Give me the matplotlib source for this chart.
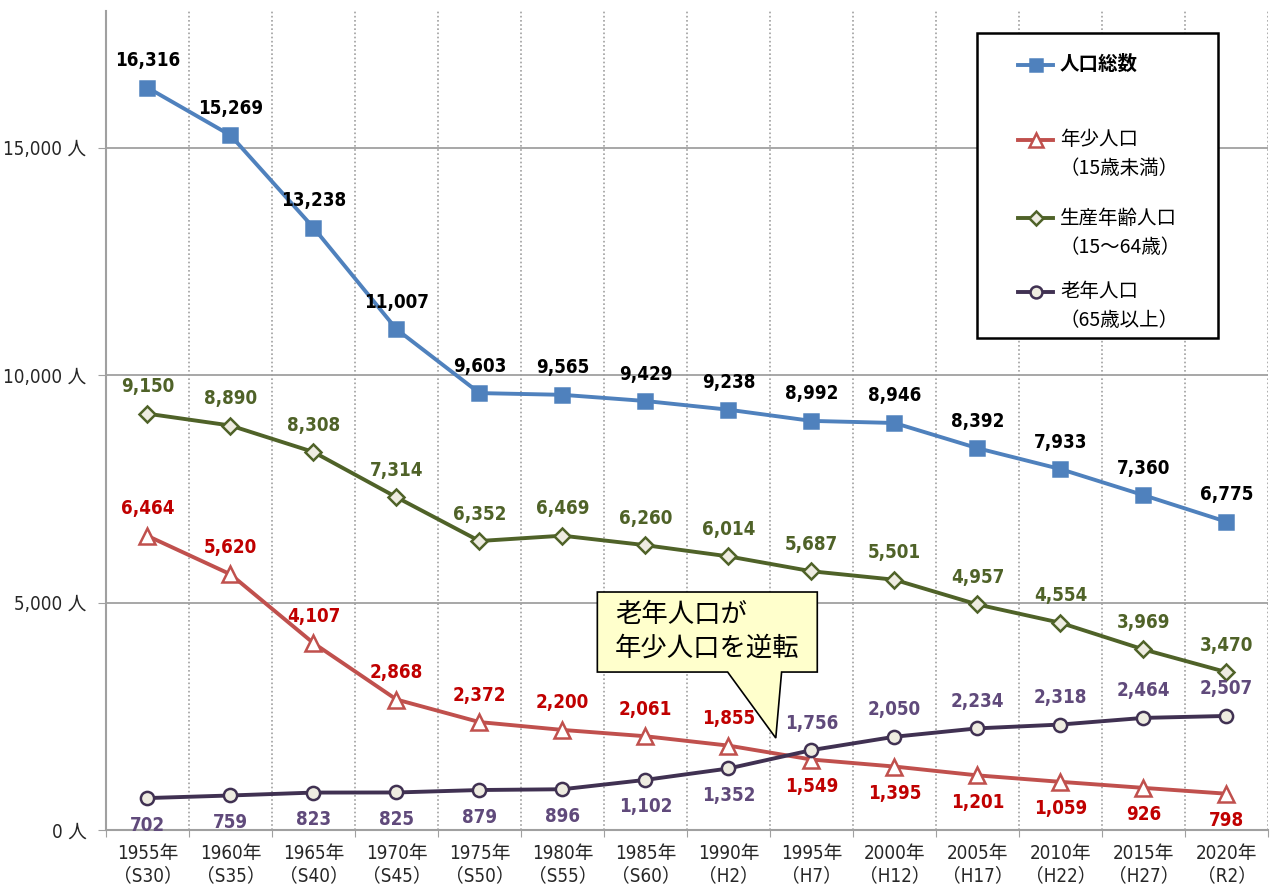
import matplotlib
matplotlib.use('Agg')
import matplotlib.pyplot as plt
from matplotlib.patches import Rectangle, Polygon
from matplotlib.lines import Line2D

plt.rcParams['font.family'] = ['DejaVu Sans', 'Noto Sans CJK JP']
plt.rcParams['font.stretch'] = 'condensed'

# data
years = ['1955年', '1960年', '1965年', '1970年', '1975年', '1980年', '1985年',
         '1990年', '1995年', '2000年', '2005年', '2010年', '2015年', '2020年']
eras = ['S30', 'S35', 'S40', 'S45', 'S50', 'S55', 'S60',
        'H2', 'H7', 'H12', 'H17', 'H22', 'H27', 'R2']
total = [16316, 15269, 13238, 11007, 9603, 9565, 9429, 9238, 8992, 8946, 8392, 7933, 7360, 6775]
youth = [6464, 5620, 4107, 2868, 2372, 2200, 2061, 1855, 1549, 1395, 1201, 1059, 926, 798]
working = [9150, 8890, 8308, 7314, 6352, 6469, 6260, 6014, 5687, 5501, 4957, 4554, 3969, 3470]
elderly = [702, 759, 823, 825, 879, 896, 1102, 1352, 1756, 2050, 2234, 2318, 2464, 2507]

x = list(range(len(years)))

fig = plt.figure(figsize=(12.71, 8.90), dpi=100)
ax = fig.add_axes([0.0834, 0.0674, 0.9142, 0.9202])

# series: (values, line colour, label colour, marker, face, label side per point)
series = [
  (total, '#4F81BD', '#000000', 's', '#4F81BD', [1] * 14),
  (youth, '#C0504D', '#C00000', '^', 'white', [1] * 8 + [-1] * 6),
  (working, '#4F6228', '#4F6228', 'D', '#EEECE1', [1] * 14),
  (elderly, '#403152', '#604A7B', 'o', '#EEECE1', [-1] * 8 + [1] * 6),
]
msizes = {'s': 10, '^': 11, 'D': 8, 'o': 9.5}

for vals, col, lcol, mk, face, side in series:
  ax.plot(x, vals, color=col, lw=2.8, marker=mk, ms=msizes[mk],
          mfc=face, mec=col, mew=1.8, zorder=4, clip_on=False)
  for xi, v, s in zip(x, vals, side):
    ax.annotate(f'{v:,}', (xi, v), xytext=(0, 27 * s), textcoords='offset pixels',
                ha='center', va='center', fontsize=13.5, fontweight='bold',
                fontstretch='condensed', color=lcol, zorder=5)

# axes
ax.set_xlim(-0.5, 13.5)
ax.set_ylim(0, 18000)
ax.set_yticks([0, 5000, 10000, 15000])
ax.set_yticklabels([f'{v:,} 人' for v in [0, 5000, 10000, 15000]], fontsize=13.5, color='#262626')
ax.set_xticks([i + 0.5 for i in range(-1, 14)])
ax.set_xticklabels([])
ax.set_xticks(x, minor=True)
ax.set_xticklabels([f'{y}\n（{e}）' for y, e in zip(years, eras)], minor=True,
                   fontsize=13.5, color='#262626', linespacing=1.2)
ax.tick_params(axis='x', which='minor', length=0, pad=10)
ax.tick_params(axis='x', which='major', length=5, color='#A0A0A0', direction='out')
ax.tick_params(axis='y', length=6, color='#A0A0A0', pad=8)

ax.grid(axis='y', color='#A0A0A0', lw=1.3)
for b in [i + 0.5 for i in range(14)]:
  ax.axvline(b, color='#A0A0A0', lw=1.2, ls=(0, (1, 1.5)), zorder=0)
ax.set_axisbelow(True)

for s in ['top', 'right']:
  ax.spines[s].set_visible(False)
for s in ['left', 'bottom']:
  ax.spines[s].set_color('#A0A0A0')
  ax.spines[s].set_linewidth(1.5)

# legend drawn by hand so the handles sit on the first line of each label
ax.add_patch(Rectangle((0.7496, 0.6007), 0.2074, 0.3723, transform=ax.transAxes,
                       facecolor='white', edgecolor='black', lw=1.8, zorder=6))
legend_labels = ['人口総数', '年少人口\n（15歳未満）', '生産年齢人口\n（15～64歳）', '老年人口\n（65歳以上）']
legend_y = [0.934, 0.8425, 0.747, 0.657]
for (vals, col, lcol, mk, face, side), lab, ly in zip(series, legend_labels, legend_y):
  ax.add_line(Line2D([0.785, 0.815], [ly, ly], transform=ax.transAxes, color=col,
                     lw=2.8, zorder=7))
  ax.add_line(Line2D([0.800], [ly], transform=ax.transAxes, marker=mk,
                     ms=msizes[mk] * 0.9, mfc=face, mec=col, mew=1.8, zorder=8))
  ax.text(0.821, ly + 0.013, lab, transform=ax.transAxes, ha='left', va='top',
          fontsize=14, linespacing=1.5, zorder=8,
          fontweight='bold' if lab == '人口総数' else 'normal',
          family=['Noto Sans CJK JP', 'DejaVu Sans'])

# callout
ax.add_patch(Polygon([(5.42, 5231), (8.07, 5231), (8.07, 3472), (7.64, 3472),
                      (7.57, 2022), (6.99, 3472), (5.42, 3472)],
                     closed=True, facecolor='#FFFFCC', edgecolor='black', lw=1.2, zorder=6))
ax.text(5.63, 4360, '老年人口が\n年少人口を逆転', ha='left', va='center', fontsize=19,
        linespacing=1.3, zorder=7, family=['Noto Sans CJK JP', 'DejaVu Sans'])

fig.savefig('out.png', dpi=100)
